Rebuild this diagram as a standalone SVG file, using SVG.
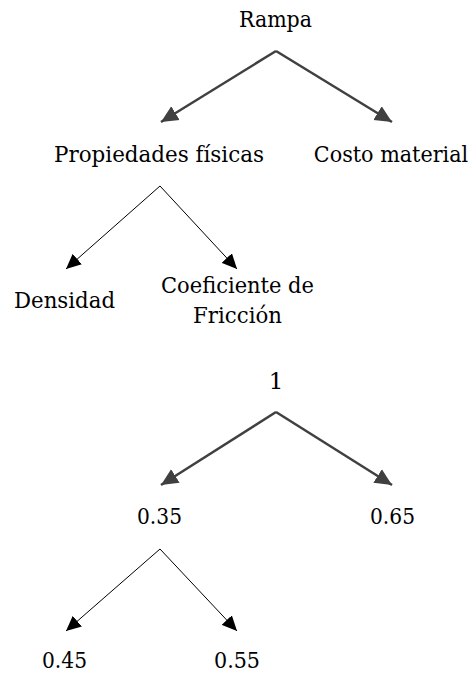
<svg xmlns="http://www.w3.org/2000/svg" width="473" height="675" viewBox="0 0 473 675">
<style>
text{font-family:"DejaVu Serif","Liberation Serif",serif;font-size:23px;fill:#000;text-anchor:middle}
.thick{stroke:#404040;stroke-width:2.5;fill:none}
.thin{stroke:#000;stroke-width:1;fill:none}
</style>
<defs>
<marker id="ah1" markerUnits="userSpaceOnUse" markerWidth="18" markerHeight="18" refX="17" refY="9" orient="auto" viewBox="0 0 18 18"><path d="M0,1 L17,9 L0,17 Z" fill="#404040"/></marker>
<marker id="ah2" markerUnits="userSpaceOnUse" markerWidth="16" markerHeight="14" refX="15" refY="7" orient="auto" viewBox="0 0 16 14"><path d="M0,0 L15,7 L0,14 Z" fill="#000"/></marker>
</defs>
<g id="connectors">
<line class="thick" x1="276" y1="51" x2="161" y2="122" marker-end="url(#ah1)"/>
<line class="thick" x1="276" y1="51" x2="392" y2="122" marker-end="url(#ah1)"/>
<line class="thin" x1="160" y1="186" x2="66" y2="269" marker-end="url(#ah2)"/>
<line class="thin" x1="160" y1="186" x2="237" y2="269" marker-end="url(#ah2)"/>
<line class="thick" x1="276" y1="412" x2="161" y2="485" marker-end="url(#ah1)"/>
<line class="thick" x1="276" y1="412" x2="392" y2="485" marker-end="url(#ah1)"/>
<line class="thin" x1="160" y1="549" x2="66" y2="631" marker-end="url(#ah2)"/>
<line class="thin" x1="160" y1="549" x2="237" y2="631" marker-end="url(#ah2)"/>
</g>
<g id="rampa"><text x="275.5" y="27" textLength="73" lengthAdjust="spacingAndGlyphs">Rampa</text></g>
<g id="propiedades"><text x="159" y="161.5" textLength="210" lengthAdjust="spacingAndGlyphs">Propiedades físicas</text></g>
<g id="costo" transform="translate(391,161.5) scale(0.9,1)"><text x="0" y="0">Costo material</text></g>
<g id="densidad"><text x="64.5" y="308" textLength="101" lengthAdjust="spacingAndGlyphs">Densidad</text></g>
<g id="coeficiente"><text x="237.5" y="293" textLength="153" lengthAdjust="spacingAndGlyphs">Coeficiente de</text><text x="237.5" y="323" textLength="89" lengthAdjust="spacingAndGlyphs">Fricción</text></g>
<g id="n1"><text x="276" y="389">1</text></g>
<g id="n035"><text x="159.5" y="524" textLength="45" lengthAdjust="spacingAndGlyphs">0.35</text></g>
<g id="n065"><text x="392.5" y="524" textLength="45" lengthAdjust="spacingAndGlyphs">0.65</text></g>
<g id="n045"><text x="64.5" y="668" textLength="45" lengthAdjust="spacingAndGlyphs">0.45</text></g>
<g id="n055"><text x="237" y="668" textLength="46" lengthAdjust="spacingAndGlyphs">0.55</text></g>
</svg>
